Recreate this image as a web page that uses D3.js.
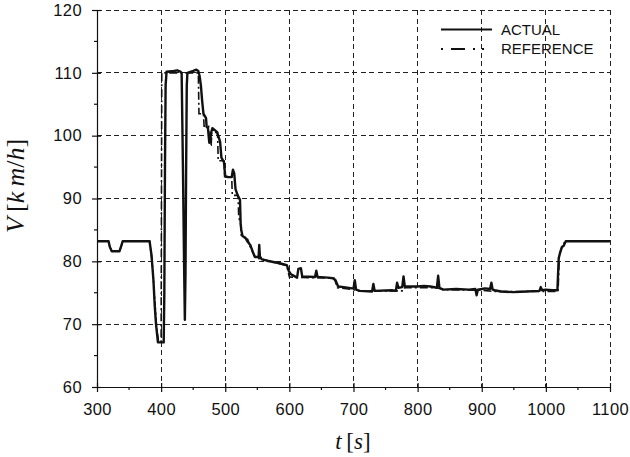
<!DOCTYPE html>
<html>
<head>
<meta charset="utf-8">
<script src="https://cdn.jsdelivr.net/npm/d3@7"></script>
<style>
  body { margin: 0; background: #fff; }
  svg { display: block; }
  .tick text { font-family: "Liberation Sans", Arial, sans-serif; font-size: 16.5px; letter-spacing: 0.4px; fill: #111; }
  .legend text { font-family: "Liberation Sans", Arial, sans-serif; font-size: 15px; fill: #111; }
  .math { font-family: "Liberation Serif", "Times New Roman", serif; fill: #111; }
</style>
</head>
<body>
<svg width="630" height="457"></svg>
<script>
// measured speed (solid) - time [s], speed [km/h]
let actualTime  = [300, 318, 320, 323, 335, 338, 340, 382, 385, 388, 390, 392, 395, 404, 405, 406, 407, 408.5,
                   420, 425, 430, 432, 434, 436, 437, 438, 439, 440, 441, 450, 455, 458, 460, 462, 464, 466,
                   470, 471, 473, 475, 476, 478, 480, 487, 489, 492, 494, 498, 500, 504, 510, 512, 514, 516,
                   519, 523, 524, 525, 527, 531, 535, 539, 543, 546, 552, 553, 554, 557, 565, 575, 585, 596,
                   599, 602, 605, 612, 614, 618, 620, 640, 642, 644, 660, 668, 672, 676, 685, 698, 700, 702,
                   704, 710, 729, 731, 733, 760, 766, 768, 770, 776, 778, 780, 783, 800, 810, 820, 830, 832,
                   834, 840, 860, 880, 890, 892, 894, 900, 905, 913, 915, 917, 920, 930, 950, 970, 990, 992,
                   994, 1000, 1010, 1018, 1019, 1020, 1022, 1025, 1028, 1031, 1100];
let actualSpeed = [83.2, 83.2, 82.3, 81.6, 81.6, 82.5, 83.2, 83.2, 81, 77, 73, 70, 67.1, 67.1, 75, 95, 108, 110.2,
                   110.3, 110.4, 110.2, 110.0, 95, 78, 70.7, 78, 95, 108, 110.0, 110.3, 110.5, 110.3, 109.5, 108, 105.5, 103.5,
                   102.8, 101.4, 101.2, 99, 98.9, 100.5, 101.2, 100.6, 100, 99, 96.5, 95.8, 93.5, 93.4, 93.4, 94.6, 94, 91.5,
                   90.6, 89.8, 86, 85, 84, 83.8, 83.1, 82.6, 81.5, 80.7, 80.7, 82.6, 80.8, 80.3, 80.1, 79.9, 79.7, 79.4,
                   78.5, 78, 77.8, 77.4, 78.8, 78.9, 77.6, 77.5, 78.5, 77.5, 77.4, 77.3, 77, 76, 75.9, 75.7, 75.7, 77.0,
                   75.5, 75.3, 75.2, 76.4, 75.3, 75.4, 75.3, 76.6, 75.8, 75.9, 77.6, 76.0, 76.0, 76.0, 76.1, 76.0, 75.8, 77.7,
                   75.8, 75.5, 75.6, 75.5, 75.6, 74.6, 75.5, 75.6, 75.7, 75.6, 76.6, 75.5, 75.4, 75.2, 75.1, 75.2, 75.3, 75.9,
                   75.4, 75.5, 75.4, 75.4, 78, 80.5, 81.3, 82.3, 82.5, 83.2, 83.2];

// reference speed (dash-dot)
let referenceTime  = [300, 318, 320, 323, 335, 338, 340, 382, 386, 390, 393, 396, 400, 401, 458, 459, 466, 467,
                      474, 475, 478, 479, 488, 489, 498, 499, 510, 511, 520, 521, 524, 525, 535, 540, 548, 560,
                      596, 600, 670, 675, 700, 705, 778, 780, 830, 840, 900, 920, 1018, 1019, 1021, 1026, 1030, 1100];
let referenceSpeed = [83.2, 83.2, 82.3, 81.6, 81.6, 82.5, 83.2, 83.2, 80, 74, 69.5, 67.2, 67.1, 110, 110, 103.5, 103.5, 101.5,
                      101.5, 98.5, 98.5, 100.5, 100.5, 96, 96, 93.5, 93.5, 90.5, 90.5, 87, 86, 84, 83.5, 82, 80.5, 80.3,
                      79.3, 77.5, 77.3, 75.8, 75.5, 75.3, 75.3, 75.8, 75.8, 75.5, 75.4, 75.2, 75.2, 75.2, 81, 82.5, 83.2, 83.2];

let xTicks = [300, 400, 500, 600, 700, 800, 900, 1000, 1100];
let xMinorTicks = [350, 450, 550, 650, 750, 850, 950, 1050];
let yTicks = [60, 70, 80, 90, 100, 110, 120];
let yMinorTicks = [65, 75, 85, 95, 105, 115];
let seriesNames = ["ACTUAL", "REFERENCE"];

var svg = d3.select("svg"),
    margin = {top: 10, right: 20, bottom: 70, left: 97},
    width = +svg.attr("width") - margin.left - margin.right,
    height = +svg.attr("height") - margin.top - margin.bottom;

var x = d3.scaleLinear().domain([300, 1100]).range([0, width]);
var y = d3.scaleLinear().domain([60, 120]).range([height, 0]);

var g = svg.append("g").attr("transform", "translate(" + margin.left + "," + margin.top + ")");

svg.append("defs").append("clipPath").attr("id", "plot")
    .append("rect").attr("x", -1).attr("y", -2).attr("width", width + 2).attr("height", height + 3);

// dashed grid
var grid = g.append("g").attr("class", "grid");
grid.selectAll("line.h")
    .data(yTicks.filter(d => d > 60))
    .enter().append("line")
    .attr("class", "h")
    .attr("x1", 0).attr("x2", width)
    .attr("y1", d => y(d)).attr("y2", d => y(d));
grid.selectAll("line.v")
    .data(xTicks.filter(d => d > 300))
    .enter().append("line")
    .attr("class", "v")
    .attr("y1", 0).attr("y2", height)
    .attr("x1", d => x(d)).attr("x2", d => x(d));
grid.selectAll("line")
    .attr("stroke", "#222")
    .attr("stroke-width", 1)
    .attr("stroke-dasharray", "5,3.5")
    .attr("shape-rendering", "crispEdges");

// axes
var xAxis = g.append("g")
    .attr("transform", "translate(0," + height + ")")
    .call(d3.axisBottom(x).tickValues(xTicks).tickFormat(d3.format("d"))
        .tickSizeInner(5).tickSizeOuter(0).tickPadding(11));
xAxis.selectAll(".tick line").attr("y1", -4);

var yAxis = g.append("g")
    .call(d3.axisLeft(y).tickValues(yTicks).tickFormat(d3.format("d"))
        .tickSizeInner(5).tickSizeOuter(0).tickPadding(10));
yAxis.selectAll(".tick line").attr("x1", 4);

xAxis.selectAll(".minor").data(xMinorTicks).enter().append("line")
    .attr("class", "minor")
    .attr("x1", d => x(d)).attr("x2", d => x(d))
    .attr("y1", 0).attr("y2", 3);
yAxis.selectAll(".minor").data(yMinorTicks).enter().append("line")
    .attr("class", "minor")
    .attr("y1", d => y(d)).attr("y2", d => y(d))
    .attr("x1", 0).attr("x2", -3);

svg.selectAll(".domain, .tick line, .minor").attr("stroke", "#111").attr("stroke-width", 1.2);

// curves
var line = d3.line()
    .x(d => x(d[0]))
    .y(d => y(d[1]));

var referenceData = referenceTime.map((t, i) => [t, referenceSpeed[i]]);
var actualData = actualTime.map((t, i) => [t, actualSpeed[i]]);

var curves = g.append("g").attr("clip-path", "url(#plot)");

curves.append("path")
    .datum(referenceData)
    .attr("fill", "none")
    .attr("stroke", "#111")
    .attr("stroke-width", 1.6)
    .attr("stroke-dasharray", "8,3,2,3")
    .attr("d", line);

curves.append("path")
    .datum(actualData)
    .attr("fill", "none")
    .attr("stroke", "#111")
    .attr("stroke-width", 2.4)
    .attr("stroke-linejoin", "round")
    .attr("d", line);

// legend
var legend = svg.append("g").attr("class", "legend");
seriesNames.forEach(function(name, i) {
    var yy = 29.5 + i * 19.5;
    legend.append("line")
        .attr("x1", 441).attr("x2", 492)
        .attr("y1", yy).attr("y2", yy)
        .attr("stroke", "#111")
        .attr("stroke-width", i === 0 ? 2 : 1.8)
        .attr("stroke-dasharray", i === 0 ? null : "2,8,14,8,2,7");
    legend.append("text")
        .attr("x", 501).attr("y", yy)
        .attr("dy", "0.36em")
        .text(name);
});

// axis labels (math style)
var xLabel = svg.append("text")
    .attr("class", "math")
    .attr("x", 353).attr("y", 449)
    .attr("text-anchor", "middle")
    .style("font-size", "23px");
xLabel.append("tspan").style("font-style", "italic").text("t");
xLabel.append("tspan").text("\u2009[");
xLabel.append("tspan").style("font-style", "italic").text("s");
xLabel.append("tspan").text("]");

var yLabel = svg.append("text")
    .attr("class", "math")
    .attr("transform", "translate(24,186) rotate(-90)")
    .attr("text-anchor", "middle")
    .style("font-size", "26px");
yLabel.append("tspan").style("font-style", "italic").text("V");
yLabel.append("tspan").text("\u2009[");
yLabel.append("tspan").style("font-style", "italic").text("k\u2009m");
yLabel.append("tspan").text("/");
yLabel.append("tspan").style("font-style", "italic").text("h");
yLabel.append("tspan").text("]");
</script>
</body>
</html>
